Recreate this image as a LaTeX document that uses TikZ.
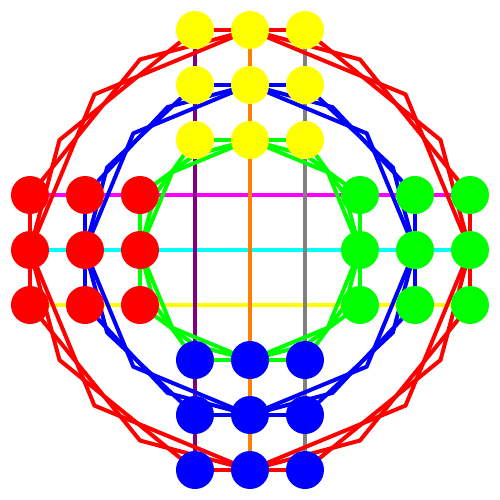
\documentclass[tikz,border=0pt]{standalone}
\usetikzlibrary{backgrounds}
\definecolor{barpurple}{RGB}{128,0,128}
\definecolor{barmagenta}{RGB}{255,0,255}
\definecolor{barcyan}{RGB}{0,255,255}
\definecolor{barorange}{RGB}{255,128,0}
\definecolor{bargray}{RGB}{128,128,128}
\definecolor{dotgreen}{RGB}{0,255,0}
\definecolor{dotyellow}{RGB}{255,255,0}
\definecolor{dotred}{RGB}{255,0,0}
\definecolor{dotblue}{RGB}{0,0,255}
\begin{document}
\begin{tikzpicture}[x=0.5pt,y=0.5pt,
  dot/.style={circle, inner sep=0pt, minimum size=19pt, fill=#1},
  ring/.style={line width=2pt, draw=#1, line join=miter},
  bar/.style={line width=2pt, draw=#1}]
\useasboundingbox (-250,-250) rectangle (250,250);
% outer ring
\node[dot=dotgreen]  (o0)  at (220,0) {};
\node[dot=dotgreen]  (o1)  at (220,55) {};
\node[dot=dotyellow] (o2)  at (55,220) {};
\node[dot=dotyellow] (o3)  at (0,220) {};
\node[dot=dotyellow] (o4)  at (-55,220) {};
\node[dot=dotred]    (o5)  at (-220,55) {};
\node[dot=dotred]    (o6)  at (-220,0) {};
\node[dot=dotred]    (o7)  at (-220,-55) {};
\node[dot=dotblue]   (o8)  at (-55,-220) {};
\node[dot=dotblue]   (o9)  at (0,-220) {};
\node[dot=dotblue]   (o10) at (55,-220) {};
\node[dot=dotgreen]  (o11) at (220,-55) {};
% middle ring
\node[dot=dotgreen]  (m0)  at (165,0) {};
\node[dot=dotgreen]  (m1)  at (165,55) {};
\node[dot=dotyellow] (m2)  at (55,165) {};
\node[dot=dotyellow] (m3)  at (0,165) {};
\node[dot=dotyellow] (m4)  at (-55,165) {};
\node[dot=dotred]    (m5)  at (-165,55) {};
\node[dot=dotred]    (m6)  at (-165,0) {};
\node[dot=dotred]    (m7)  at (-165,-55) {};
\node[dot=dotblue]   (m8)  at (-55,-165) {};
\node[dot=dotblue]   (m9)  at (0,-165) {};
\node[dot=dotblue]   (m10) at (55,-165) {};
\node[dot=dotgreen]  (m11) at (165,-55) {};
% inner ring
\node[dot=dotgreen]  (i0)  at (110,0) {};
\node[dot=dotgreen]  (i1)  at (110,55) {};
\node[dot=dotyellow] (i2)  at (55,110) {};
\node[dot=dotyellow] (i3)  at (0,110) {};
\node[dot=dotyellow] (i4)  at (-55,110) {};
\node[dot=dotred]    (i5)  at (-110,55) {};
\node[dot=dotred]    (i6)  at (-110,0) {};
\node[dot=dotred]    (i7)  at (-110,-55) {};
\node[dot=dotblue]   (i8)  at (-55,-110) {};
\node[dot=dotblue]   (i9)  at (0,-110) {};
\node[dot=dotblue]   (i10) at (55,-110) {};
\node[dot=dotgreen]  (i11) at (110,-55) {};
\begin{scope}[on background layer]
\draw[bar=barmagenta] (o5.center) -- (o1.center);
\draw[bar=barcyan]    (o6.center) -- (o0.center);
\draw[bar=dotyellow]  (o7.center) -- (o11.center);
\draw[bar=barpurple]  (o4.center) -- (o8.center);
\draw[bar=barorange]  (o3.center) -- (o9.center);
\draw[bar=bargray]    (o2.center) -- (o10.center);
% ring edges, bent through the circle
\foreach \k in {0,...,11} {
    \pgfmathtruncatemacro\j{mod(\k+2,12)}
    \pgfmathsetmacro\a{30*\k+30}
    \draw[ring=dotred]   (o\k.center) -- (\a:220) -- (o\j.center);
    \draw[ring=dotblue]  (m\k.center) -- (\a:165) -- (m\j.center);
    \draw[ring=dotgreen] (i\k.center) -- (\a:110) -- (i\j.center);
  }
% middle to middle
\foreach \k in {0,3,6,9} {
    \pgfmathtruncatemacro\j{mod(\k+3,12)}
    \pgfmathsetmacro\a{30*\k+45}
    \draw[ring=dotred]   (o\k.center) -- (\a:220) -- (o\j.center);
    \draw[ring=dotblue]  (m\k.center) -- (\a:165) -- (m\j.center);
    \draw[ring=dotgreen] (i\k.center) -- (\a:110) -- (i\j.center);
  }
\end{scope}
\end{tikzpicture}
\end{document}
